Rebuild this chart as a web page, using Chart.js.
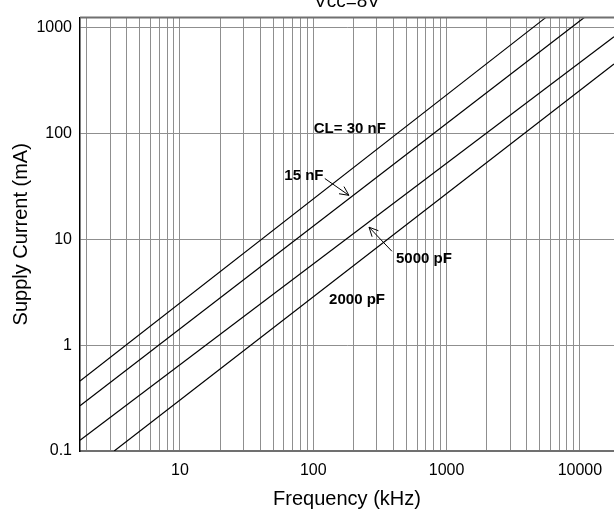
<!DOCTYPE html>
<html>
<head>
<meta charset="utf-8">
<script src="https://cdn.jsdelivr.net/npm/chart.js@4.4.0/dist/chart.umd.min.js"></script>
<style>
  html, body { margin: 0; padding: 0; background: #fff; }
  #wrap { width: 614px; height: 513px; }
</style>
</head>
<body>
<div id="wrap"><canvas id="grafico"></canvas></div>
<script>
// valores (kHz / mA)
const freq30 = [1.778, 5535];
const cur30 = [0.457, 1241];
const freq15 = [1.778, 10790];
const cur15 = [0.267, 1241];
const freq5000 = [1.778, 18030];
const cur5000 = [0.126, 819];
const freq2000 = [3.21, 18030];
const cur2000 = [0.1, 453];

const xTicks = [2, 3, 4, 5, 6, 7, 8, 9, 10, 20, 30, 40, 50, 60, 70, 80, 90,
  100, 200, 300, 400, 500, 600, 700, 800, 900, 1000, 2000, 3000, 4000, 5000,
  6000, 7000, 8000, 9000, 10000];
const xLabels = [10, 100, 1000, 10000];
const yTicks = [0.1, 1, 10, 100, 1000];
const yLabels = ["0.1", "1", "10", "100", "1000"];

// etiquetas dentro del grafico (posicion en valores de datos)
const etiquetas = [
  { text: "CL= 30 nF", f: 188, i: 110 },
  { text: "15 nF", f: 85, i: 40 },
  { text: "5000 pF", f: 676, i: 6.5 },
  { text: "2000 pF", f: 213, i: 2.69 },
];
const flechas = [
  { f1: 122, i1: 37.5, f2: 185, i2: 26 },
  { f1: 389, i1: 7.7, f2: 262, i2: 13 },
];

const FONT = "'Liberation Sans', Arial, sans-serif";

function serie(fs, is) {
  return {
    data: fs.map((f, k) => ({ x: f, y: is[k] })),
    borderColor: "#000",
    borderWidth: 1.2,
    pointRadius: 0,
    fill: false,
    tension: 0,
  };
}

const extras = {
  id: "extras",
  afterDatasetsDraw(chart) {
    const ctx = chart.ctx;
    const xs = chart.scales.x;
    const ys = chart.scales.y;
    const area = chart.chartArea;
    ctx.save();
    // borde superior
    ctx.strokeStyle = "#707070";
    ctx.lineWidth = 2;
    ctx.beginPath();
    ctx.moveTo(area.left, area.top);
    ctx.lineTo(area.right, area.top);
    ctx.stroke();

    ctx.fillStyle = "#000";
    ctx.font = "bold 15px " + FONT;
    ctx.textAlign = "center";
    ctx.textBaseline = "middle";
    etiquetas.forEach((e) => {
      ctx.fillText(e.text, xs.getPixelForValue(e.f), ys.getPixelForValue(e.i));
    });

    ctx.strokeStyle = "#000";
    ctx.lineWidth = 1;
    flechas.forEach((a) => {
      const x1 = xs.getPixelForValue(a.f1), y1 = ys.getPixelForValue(a.i1);
      const x2 = xs.getPixelForValue(a.f2), y2 = ys.getPixelForValue(a.i2);
      const ang = Math.atan2(y2 - y1, x2 - x1);
      ctx.beginPath();
      ctx.moveTo(x1, y1);
      ctx.lineTo(x2, y2);
      ctx.moveTo(x2 - 10 * Math.cos(ang - 0.45), y2 - 10 * Math.sin(ang - 0.45));
      ctx.lineTo(x2, y2);
      ctx.lineTo(x2 - 10 * Math.cos(ang + 0.45), y2 - 10 * Math.sin(ang + 0.45));
      ctx.stroke();
    });

    // titulo cortado arriba
    ctx.font = "19px " + FONT;
    ctx.textBaseline = "alphabetic";
    ctx.fillText("Vcc=8V", (area.left + area.right) / 2, 7);
    ctx.restore();
  },
};

const ctx = document.getElementById("grafico").getContext("2d");
const grafico = new Chart(ctx, {
  type: "line",
  data: {
    datasets: [
      serie(freq30, cur30),
      serie(freq15, cur15),
      serie(freq5000, cur5000),
      serie(freq2000, cur2000),
    ],
  },
  options: {
    responsive: true,
    maintainAspectRatio: false,
    animation: false,
    layout: { padding: { top: 15, right: 0, left: 0, bottom: 0 } },
    scales: {
      x: {
        type: "logarithmic",
        min: 1.778,
        max: 18030,
        afterBuildTicks: (scale) => {
          scale.ticks = xTicks.map((v) => ({ value: v }));
        },
        afterFit: (scale) => {
          scale.height = 62;
        },
        grid: {
          color: "#8f8f8f",
          lineWidth: 1,
          drawTicks: false,
        },
        border: { color: "#707070", width: 2 },
        ticks: {
          padding: 10,
          autoSkip: false,
          maxRotation: 0,
          color: "#000",
          font: { family: FONT, size: 16 },
          callback: (v) => (xLabels.includes(v) ? String(v) : ""),
        },
        title: {
          display: true,
          text: "Frequency (kHz)",
          color: "#000",
          font: { family: FONT, size: 20 },
          padding: { top: 0, bottom: 2 },
        },
      },
      y: {
        type: "logarithmic",
        min: 0.1,
        max: 1241,
        afterBuildTicks: (scale) => {
          scale.ticks = yTicks.map((v) => ({ value: v }));
        },
        afterFit: (scale) => {
          scale.width = 80;
        },
        grid: {
          color: "#8f8f8f",
          lineWidth: 1,
          drawTicks: false,
        },
        border: { color: "#000", width: 1.5 },
        ticks: {
          padding: 8,
          autoSkip: false,
          color: "#000",
          font: { family: FONT, size: 16 },
          callback: (v) => {
            const k = yTicks.indexOf(v);
            return k >= 0 ? yLabels[k] : "";
          },
        },
        title: {
          display: true,
          text: "Supply Current (mA)",
          color: "#000",
          font: { family: FONT, size: 20 },
          padding: { top: 9, bottom: 0 },
        },
      },
    },
    plugins: {
      legend: { display: false },
      tooltip: { enabled: false },
    },
  },
  plugins: [extras],
});
</script>
</body>
</html>
